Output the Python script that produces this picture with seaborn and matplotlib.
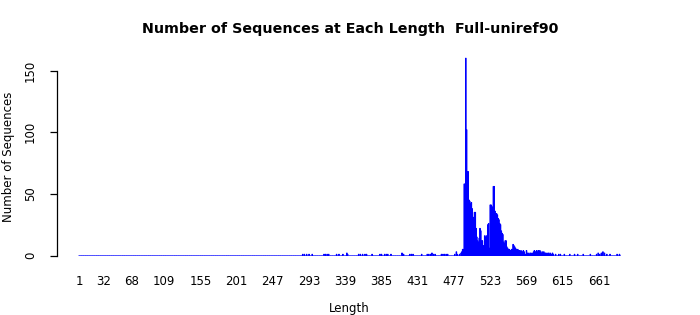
import numpy as np
import pandas as pd
import matplotlib
matplotlib.use("Agg")
import matplotlib.pyplot as plt
import seaborn as sns

# ---- data ----
max_length = 688
nonzero_lengths = [
    285, 287, 290, 293, 297, 312, 314, 316, 318, 328, 331, 336, 341, 342, 356, 358,
    361, 364, 366, 373, 383, 385, 389, 391, 393, 397, 411, 412, 413, 421, 423, 425,
    436, 443, 445, 447, 449, 451, 453, 461, 463, 465, 467, 469, 478, 480, 481, 484,
    486, 487, 488, 489,
    490, 491, 492, 493, 494, 495, 496, 497, 498, 499, 500, 501, 502, 503, 504, 505,
    506, 507, 508, 509, 510, 511, 512, 513, 514, 515, 516, 517, 518, 519, 520, 521,
    522, 523, 524, 525, 526, 527, 528, 529, 530, 531, 532, 533, 534, 535, 536, 537,
    538, 539, 540, 541, 542, 543, 544, 545, 546, 547, 548, 549, 550, 551, 552, 553,
    554, 555, 556, 557, 558, 559, 560, 561, 562, 563, 564, 565, 566, 567, 568, 569,
    570, 571, 572, 573, 574, 575, 576, 577, 578, 579, 580, 581, 582, 583, 584, 585,
    586, 587, 588, 589, 590, 591, 592, 593, 594, 595, 596, 597, 598, 599, 600, 601,
    602, 603, 606, 610, 612, 617, 624, 630, 634, 641, 650, 658, 660, 662, 664, 666,
    668, 671, 675, 684, 687,
]
nonzero_counts = [
    1, 1, 1, 1, 1, 1, 1, 1, 1, 1, 1, 1, 2, 1, 1, 1,
    1, 1, 1, 1, 1, 1, 1, 1, 1, 1, 2, 1, 1, 1, 1, 1,
    1, 1, 1, 1, 2, 1, 1, 1, 1, 1, 1, 1, 1, 3, 1, 1,
    2, 3, 5, 5,
    58, 58, 160, 102, 68, 68, 45, 44, 42, 43, 38, 30, 31, 35, 35, 22,
    15, 12, 11, 14, 22, 20, 12, 12, 8, 8, 16, 15, 16, 14, 25, 26,
    6, 41, 41, 40, 39, 56, 56, 36, 34, 34, 33, 30, 29, 26, 25, 20,
    18, 17, 11, 10, 12, 12, 7, 6, 5, 5, 4, 4, 5, 5, 9, 8,
    7, 6, 5, 4, 5, 4, 4, 3, 4, 3, 3, 4, 3, 1, 1, 4,
    2, 1, 2, 1, 2, 1, 2, 1, 3, 4, 3, 3, 4, 3, 4, 3,
    4, 3, 2, 3, 2, 3, 2, 2, 1, 2, 1, 2, 1, 2, 1, 1,
    2, 1, 1, 1, 1, 1, 1, 1, 1, 1, 1, 1, 2, 1, 2, 3,
    2, 1, 1, 1, 1,
]
x_tick_labels = [1, 32, 68, 109, 155, 201, 247, 293, 339, 385, 431, 477, 523, 569, 615, 661]
y_ticks = [0, 50, 100, 150]

title = "Number of Sequences at Each Length  Full-uniref90"
x_label = "Length"
y_label = "Number of Sequences"

# full table: every length 1..max_length, zero where nothing observed
lengths = np.arange(1, max_length + 1)
counts = np.zeros(max_length, dtype=int)
counts[np.array(nonzero_lengths) - 1] = nonzero_counts
df = pd.DataFrame({"Length": lengths, "Count": counts})

# ---- plot ----
sns.set_style("white")
plt.rcParams["font.family"] = ["DejaVu Sans"]
plt.rcParams["text.color"] = "black"
plt.rcParams["axes.labelcolor"] = "black"
plt.rcParams["xtick.color"] = "black"
plt.rcParams["ytick.color"] = "black"

W, H = 700, 315
fig = plt.figure(figsize=(W / 100, H / 100), dpi=100)
ax_left, ax_right = 57, 642
ax_top, ax_bottom = 50.3, 263.4
ax = fig.add_axes([ax_left / W, 1 - ax_bottom / H,
                   (ax_right - ax_left) / W, (ax_bottom - ax_top) / H])

sns.barplot(data=df, x="Length", y="Count", native_scale=True, color="#0000FF",
            saturation=1, edgecolor="#0000FF", linewidth=0.7, ax=ax, errorbar=None)
for p in ax.patches:
    p.set_snap(False)

ax.set_xlim(-26.9, 715.6)
ax.set_ylim(-6.4, 166.4)

for s in ["top", "right", "bottom"]:
    ax.spines[s].set_visible(False)
ax.spines["left"].set_bounds(0, 150)
ax.spines["left"].set_color("black")
ax.spines["left"].set_linewidth(0.9)

ax.set_yticks(y_ticks)
ax.set_yticklabels([str(v) for v in y_ticks], rotation=90, va="center", fontsize=8.5)
ax.tick_params(axis="y", left=True, length=5, width=0.9, color="black", pad=9.5)

ax.set_xticks(x_tick_labels)
ax.set_xticklabels([str(v) for v in x_tick_labels], fontsize=8.5)
ax.tick_params(axis="x", bottom=False, length=0, pad=8)

ax.set_xlabel(x_label, fontsize=8.5)
ax.set_ylabel(y_label, fontsize=8.5)
ax.xaxis.set_label_coords(0.5, -0.18)
ax.yaxis.set_label_coords(-0.071, 0.5)

fig.text(0.5, 1 - 29 / H, title, ha="center", va="center", fontsize=10.25,
         fontweight="bold", color="black")

fig.savefig("out.png", dpi=100)
